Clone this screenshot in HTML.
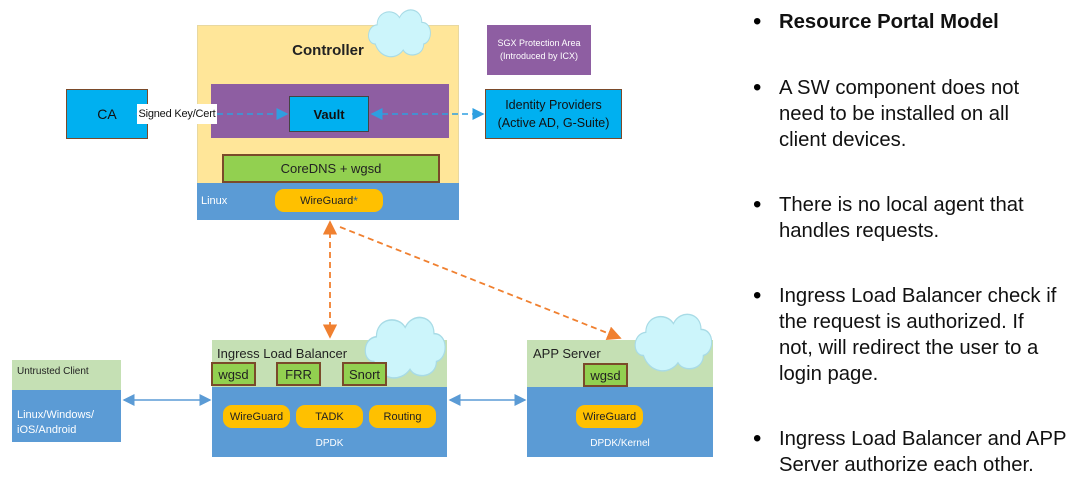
<!DOCTYPE html>
<html><head><meta charset="utf-8"><style>
body{margin:0;width:1080px;height:483px;background:#fff;position:relative;overflow:hidden;font-family:"Liberation Sans",sans-serif;}
.a{position:absolute;box-sizing:border-box;}
.c{display:flex;align-items:center;justify-content:center;text-align:center;}
.pill{background:#ffc000;border-radius:9px;font-size:11px;color:#222;}
.gb{background:#92d050;border:2px solid #7a4a2a;font-size:13px;color:#222;}
.t{position:absolute;left:779px;font-size:20.3px;color:#111;line-height:26px;white-space:nowrap;}
.b{position:absolute;left:753px;font-size:24px;line-height:26px;}
</style></head><body>
<!-- backgrounds -->
<div class="a" style="left:197px;top:25px;width:262px;height:195px;background:#ffe699;border:1px solid #e8d8a0;"></div>
<div class="a" style="left:212px;top:340px;width:235px;height:47px;background:#c5e0b4;"></div>
<div class="a" style="left:527px;top:340px;width:186px;height:47px;background:#c5e0b4;"></div>
<svg class="a" style="left:0;top:0" width="740" height="483">
<defs>
<g id="cl"><path d="M10,30 C0,30 0,15 12,14 C12,2 30,0 36,8 C42,-2 60,0 60,12 C72,12 72,28 62,30 C62,40 45,42 40,35 C32,44 15,42 10,30 Z" fill="#ccf5fb" stroke="#a8dbe6" stroke-width="1"/></g>
</defs>
<use href="#cl" transform="translate(366,8) scale(0.93,1.2)"/>
<use href="#cl" transform="translate(362,315) scale(1.2,1.55)"/>
<use href="#cl" transform="translate(632,312) scale(1.15,1.45)"/>
</svg>

<!-- Controller -->
<div class="a c" style="left:197px;top:38px;width:262px;height:24px;font-size:15px;font-weight:bold;color:#222;">Controller</div>
<div class="a" style="left:211px;top:84px;width:238px;height:54px;background:#8e5ea2;"></div>
<div class="a c" style="left:289px;top:96px;width:80px;height:36px;background:#00b0f0;border:1px solid #444;font-size:13px;font-weight:bold;color:#111;">Vault</div>
<div class="a c gb" style="left:222px;top:154px;width:218px;height:29px;">CoreDNS + wgsd</div>
<div class="a" style="left:197px;top:183px;width:262px;height:37px;background:#5b9bd5;"></div>
<div class="a" style="left:201px;top:195px;font-size:11px;color:#fff;">Linux</div>
<div class="a c pill" style="left:275px;top:189px;width:108px;height:23px;font-size:11px;">WireGuard<sup style="color:#1f5fa0;font-size:12px;">*</sup></div>
<div class="a c" style="left:66px;top:89px;width:82px;height:50px;background:#00b0f0;border:1px solid #7a4a2a;font-size:14px;color:#111;">CA</div>
<div class="a c" style="left:485px;top:89px;width:137px;height:50px;background:#00b0f0;border:1px solid #7a4a2a;font-size:12.5px;color:#111;line-height:18px;">Identity Providers<br>(Active AD, G-Suite)</div>
<div class="a c" style="left:487px;top:25px;width:104px;height:50px;background:#8e5ea2;font-size:9px;color:#fff;line-height:13px;">SGX Protection Area<br>(Introduced by ICX)</div>

<!-- Untrusted client -->
<div class="a" style="left:12px;top:360px;width:109px;height:30px;background:#c5e0b4;"></div>
<div class="a" style="left:17px;top:366px;font-size:10px;color:#222;">Untrusted Client</div>
<div class="a" style="left:12px;top:390px;width:109px;height:52px;background:#5b9bd5;"></div>
<div class="a" style="left:17px;top:408px;font-size:11px;color:#fff;line-height:15px;">Linux/Windows/<br>iOS/Android</div>

<!-- ILB -->
<div class="a" style="left:217px;top:346px;font-size:13px;color:#222;">Ingress Load Balancer</div>
<div class="a" style="left:212px;top:387px;width:235px;height:70px;background:#5b9bd5;"></div>
<div class="a c gb" style="left:211px;top:362px;width:45px;height:24px;">wgsd</div>
<div class="a c gb" style="left:276px;top:362px;width:45px;height:24px;">FRR</div>
<div class="a c gb" style="left:342px;top:362px;width:45px;height:24px;">Snort</div>
<div class="a c pill" style="left:223px;top:405px;width:67px;height:23px;">WireGuard</div>
<div class="a c pill" style="left:296px;top:405px;width:67px;height:23px;">TADK</div>
<div class="a c pill" style="left:369px;top:405px;width:67px;height:23px;">Routing</div>
<div class="a c" style="left:212px;top:436px;width:235px;height:14px;font-size:10px;color:#fff;">DPDK</div>

<!-- APP -->
<div class="a" style="left:533px;top:346px;font-size:13px;color:#222;">APP Server</div>
<div class="a" style="left:527px;top:387px;width:186px;height:70px;background:#5b9bd5;"></div>
<div class="a c gb" style="left:583px;top:363px;width:45px;height:24px;">wgsd</div>
<div class="a c pill" style="left:576px;top:405px;width:67px;height:23px;">WireGuard</div>
<div class="a c" style="left:527px;top:436px;width:186px;height:14px;font-size:10px;color:#fff;">DPDK/Kernel</div>

<svg class="a" style="left:0;top:0" width="740" height="483">
<defs>
<marker id="bl" markerWidth="8" markerHeight="8" refX="7" refY="4" orient="auto-start-reverse"><path d="M0,0 L8,4 L0,8 Z" fill="#2e9fe0"/></marker>
<marker id="bb" markerWidth="8" markerHeight="8" refX="7" refY="4" orient="auto-start-reverse"><path d="M0,0 L8,4 L0,8 Z" fill="#5b9bd5"/></marker>
<marker id="or" markerWidth="8" markerHeight="8" refX="7" refY="4" orient="auto-start-reverse"><path d="M0,0 L8,4 L0,8 Z" fill="#f08030"/></marker>
</defs>
<line x1="150" y1="114" x2="136" y2="114" stroke="#2e9fe0" stroke-width="1.5" stroke-dasharray="6,4" marker-end="url(#bl)"/>
<line x1="217" y1="114" x2="287" y2="114" stroke="#2e9fe0" stroke-width="1.5" stroke-dasharray="6,4" marker-end="url(#bl)"/>
<line x1="372" y1="114" x2="483" y2="114" stroke="#2e9fe0" stroke-width="1.5" stroke-dasharray="6,4" marker-start="url(#bl)" marker-end="url(#bl)"/>
<line x1="124" y1="400" x2="210" y2="400" stroke="#5b9bd5" stroke-width="1.5" marker-start="url(#bb)" marker-end="url(#bb)"/>
<line x1="450" y1="400" x2="525" y2="400" stroke="#5b9bd5" stroke-width="1.5" marker-start="url(#bb)" marker-end="url(#bb)"/>
<line x1="330" y1="222" x2="330" y2="337" stroke="#f08030" stroke-width="1.8" stroke-dasharray="6,4" marker-start="url(#or)" marker-end="url(#or)"/>
<line x1="340" y1="227" x2="620" y2="338" stroke="#f08030" stroke-width="1.8" stroke-dasharray="6,4" marker-end="url(#or)"/>
</svg>
<div class="a c" style="left:137px;top:104px;width:80px;height:20px;background:#fff;font-size:11px;color:#111;white-space:nowrap;letter-spacing:-0.2px;">Signed Key/Cert</div>

<!-- Text -->
<div class="b" style="top:9px;">•</div><div class="t" style="top:9px;font-weight:bold;">Resource Portal Model</div>
<div class="b" style="top:75px;">•</div><div class="t" style="top:75px;">A SW component does not<br>need to be installed on all<br>client devices.</div>
<div class="b" style="top:192px;">•</div><div class="t" style="top:192px;">There is no local agent that<br>handles requests.</div>
<div class="b" style="top:283px;">•</div><div class="t" style="top:283px;">Ingress Load Balancer check if<br>the request is authorized. If<br>not, will redirect the user to a<br>login page.</div>
<div class="b" style="top:426px;">•</div><div class="t" style="top:426px;">Ingress Load Balancer and APP<br>Server authorize each other.</div>
</body></html>
